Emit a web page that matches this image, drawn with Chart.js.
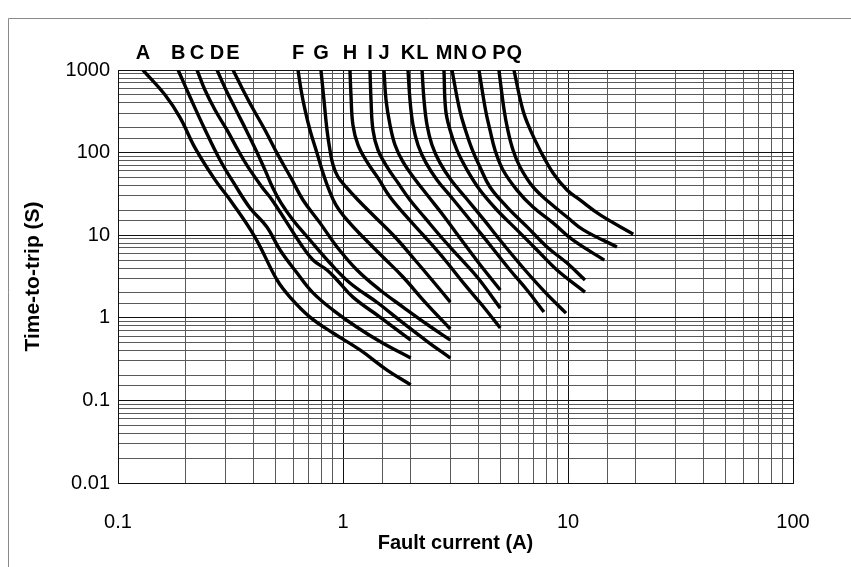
<!DOCTYPE html>
<html>
<head>
<meta charset="utf-8">
<script src="https://cdn.jsdelivr.net/npm/chart.js@4/dist/chart.umd.min.js"></script>
<style>
html,body{margin:0;padding:0;background:#fff;}
#caixa{width:851px;height:567px;}
</style>
</head>
<body>
<div id="caixa"><canvas id="grafico" width="851" height="567"></canvas></div>
<script>
// curvas de disparo: corrente (A) x tempo (s)
const letras = ['A','B','C','D','E','F','G','H','I','J','K','L','M','N','O','P','Q'];

const correnteA = [0.129,0.162,0.189,0.22,0.27,0.315,0.406,0.509,0.581,0.713,0.903,1.19,1.57,2];
const tempoA    = [1000,498,263,114,46.7,26.7,9.5,2.87,1.78,1.02,0.655,0.408,0.233,0.154];
const correnteB = [0.185,0.209,0.244,0.284,0.331,0.386,0.459,0.525,0.625,0.736,0.903,1.15,1.5,2];
const tempoB    = [1000,471,188,81.5,40.6,21.4,12.6,6.62,3.49,2.0,1.24,0.774,0.495,0.326];
const correnteC = [0.2245,0.2435,0.27,0.305,0.341,0.378,0.436,0.484,0.564,0.644,0.736,0.849,0.941,1.107,1.46,2];
const tempoC    = [1000,573,328,188,107.7,67.1,38.4,26.7,14.1,8.05,5.01,3.79,2.87,1.78,1.02,0.538];
const correnteD = [0.2755,0.302,0.3345,0.371,0.41,0.45,0.488,0.53,0.599,0.713,0.875,1.074,1.43,1.848,2.387,3];
const tempoD    = [1000,573,328,188,107.7,61.7,37.3,24.6,15.3,8.75,4.61,2.64,1.51,0.866,0.509,0.326];
const correnteE = [0.3244,0.3557,0.394,0.45,0.514,0.587,0.664,0.79,0.941,1.154,1.46,1.848,2.387,3];
const tempoE    = [1000,606,357,188,93.7,49.4,26.7,14.1,7.2,3.79,2.17,1.35,0.818,0.538];
const correnteF = [0.631,0.651,0.678,0.713,0.759,0.807,0.867,0.931,1.042,1.227,1.505,1.848,2.314,3];
const tempoF    = [1000,573,328,188,107.7,61.7,35.3,23.2,15.3,9.51,5.45,3.12,1.55,0.732];
const correnteG = [0.798,0.823,0.849,0.875,0.903,0.95,1.031,1.166,1.387,1.703,2.089,2.486,3];
const tempoG    = [1000,433.6,188,107.7,70.9,50.8,38.4,26.7,16.6,9.51,5.01,2.87,1.55];
const correnteH = [1.074,1.085,1.107,1.166,1.278,1.43,1.618,1.886,2.314,2.84,3.485,4.147,5];
const tempoH    = [1000,498,216,124,77.1,49.4,29,17.6,9.51,5.01,2.5,1.43,0.753];
const correnteI = [1.318,1.332,1.359,1.43,1.569,1.756,1.985,2.314,2.754,3.311,3.98,5];
const tempoI    = [1000,433.6,188,107.7,67.1,43,26.7,16.2,9.25,5.3,3.03,1.31];
const correnteJ = [1.521,1.553,1.618,1.703,1.848,2.068,2.387,2.782,3.311,3.98,5];
const tempoJ    = [1000,433.6,216,123.8,77.1,49.4,29.85,17.6,9.25,4.74,2.17];
const correnteK = [1.945,1.985,2.047,2.154,2.338,2.617,3.051,3.668,4.501,5.523,6.573,7.82];
const tempoK    = [1000,433.6,216,123.8,75.0,46.7,28.2,15.3,7.61,3.79,2.17,1.173];
const correnteL = [2.245,2.291,2.363,2.486,2.698,3.02,3.52,4.233,5.195,6.44,7.9,9.8];
const tempoL    = [1000,433.6,216,123.8,75.0,46.7,28.2,15.3,7.61,3.79,2.05,1.14];
const correnteM = [2.81,2.86,2.99,3.21,3.56,4.06,4.83,5.93,7.28,8.93,11.9];
const tempoM    = [1000,328,188,107,61.6,35.2,20.2,11.6,6.63,3.8,2.05];
const correnteN = [3.05,3.3,3.5,3.76,4.06,4.5,5.36,6.58,8.07,9.9,11.9];
const tempoN    = [1000,328,188,107,67,38.4,21.9,12.6,7.2,4.6,2.87];
const correnteO = [4.02,4.3,4.5,4.74,5.14,5.93,6.99,8.58,10.5,14.5];
const tempoO    = [1000,328,188,107,61.6,35.2,21.9,14.1,8.76,5.0];
const correnteP = [4.93,5.2,5.4,5.7,6.12,6.99,8.32,9.9,11.7,16.5];
const tempoP    = [1000,328,188,107,67,38.4,24.5,16.6,11.6,7.2];
const correnteQ = [5.75,6.3,6.8,7.51,8.58,9.9,11.3,13.9,19.5];
const tempoQ    = [1000,328,188,107,56.6,35.2,26.7,17.6,10.3];

const correntes = [correnteA,correnteB,correnteC,correnteD,correnteE,correnteF,correnteG,correnteH,correnteI,
                   correnteJ,correnteK,correnteL,correnteM,correnteN,correnteO,correnteP,correnteQ];
const tempos = [tempoA,tempoB,tempoC,tempoD,tempoE,tempoF,tempoG,tempoH,tempoI,
                tempoJ,tempoK,tempoL,tempoM,tempoN,tempoO,tempoP,tempoQ];

const fonte = '"Liberation Sans", Arial, Helvetica, sans-serif';

function ehDecada(v){
    const e = Math.log10(v);
    return Math.abs(e-Math.round(e)) < 1e-6;
}

function rotuloLog(v){
    if(!ehDecada(v)) return '';
    return String(Number(Number(v).toPrecision(1)));
}

function corGrade(ctx){
    if(!ctx.tick) return '#555';
    return ehDecada(ctx.tick.value) ? '#111' : '#5a5a5a';
}

const datasets = letras.map((l,i)=>({
    label:l,
    data:correntes[i].map((x,j)=>({x:x,y:tempos[i][j]})),
    borderColor:'#000',
    borderWidth:3.4,
    pointRadius:0,
    fill:false,
    tension:0.4
}));

const moldura = {
    id:'moldura',
    beforeDraw(chart){
        const c = chart.ctx;
        c.save();
        c.fillStyle='#fff';
        c.fillRect(0,0,chart.width,chart.height);
        c.strokeStyle='#8a8a8a';
        c.lineWidth=1;
        c.beginPath();
        c.moveTo(8.5,chart.height);
        c.lineTo(8.5,18.5);
        c.lineTo(chart.width,18.5);
        c.stroke();
        c.restore();
    },
    afterDraw(chart){
        const c = chart.ctx;
        const esc = chart.scales.x;
        c.save();
        c.font = 'bold 20px '+fonte;
        c.fillStyle='#000';
        c.textAlign='center';
        c.textBaseline='alphabetic';
        let ultimo = -999, largAnt = 0;
        letras.forEach((l,i)=>{
            let px = esc.getPixelForValue(correntes[i][0]);
            const w = c.measureText(l).width;
            const minimo = ultimo + (largAnt+w)/2 + 1;
            if(px < minimo) px = minimo;
            c.fillText(l, px, chart.chartArea.top - 11);
            ultimo = px; largAnt = w;
        });
        c.restore();
    }
};

new Chart(document.getElementById('grafico'),{
    type:'line',
    data:{datasets:datasets},
    plugins:[moldura],
    options:{
        responsive:false,
        animation:false,
        layout:{padding:{top:70,right:58,left:0,bottom:0}},
        plugins:{legend:{display:false},tooltip:{enabled:false}},
        scales:{
            x:{
                type:'logarithmic',
                min:0.1, max:100,
                grid:{color:corGrade,lineWidth:1,drawTicks:false},
                border:{display:true,color:'#111',width:1},
                ticks:{autoSkip:false,maxRotation:0,padding:27,color:'#000',
                       font:{family:fonte,size:20},callback:rotuloLog},
                title:{display:true,text:'Fault current (A)',color:'#000',
                       font:{family:fonte,size:20,weight:'bold'},padding:{top:4,bottom:12}},
                afterFit(s){ s.height = 84; }
            },
            y:{
                type:'logarithmic',
                min:0.01, max:1000,
                grid:{color:corGrade,lineWidth:1,drawTicks:false},
                border:{display:true,color:'#111',width:1},
                ticks:{autoSkip:false,padding:8,color:'#000',
                       font:{family:fonte,size:20},callback:rotuloLog},
                title:{display:true,text:'Time-to-trip (S)',color:'#000',
                       font:{family:fonte,size:21,weight:'bold'},padding:{top:21,bottom:4}},
                afterFit(s){ s.width = 118; }
            }
        }
    }
});
</script>
</body>
</html>
